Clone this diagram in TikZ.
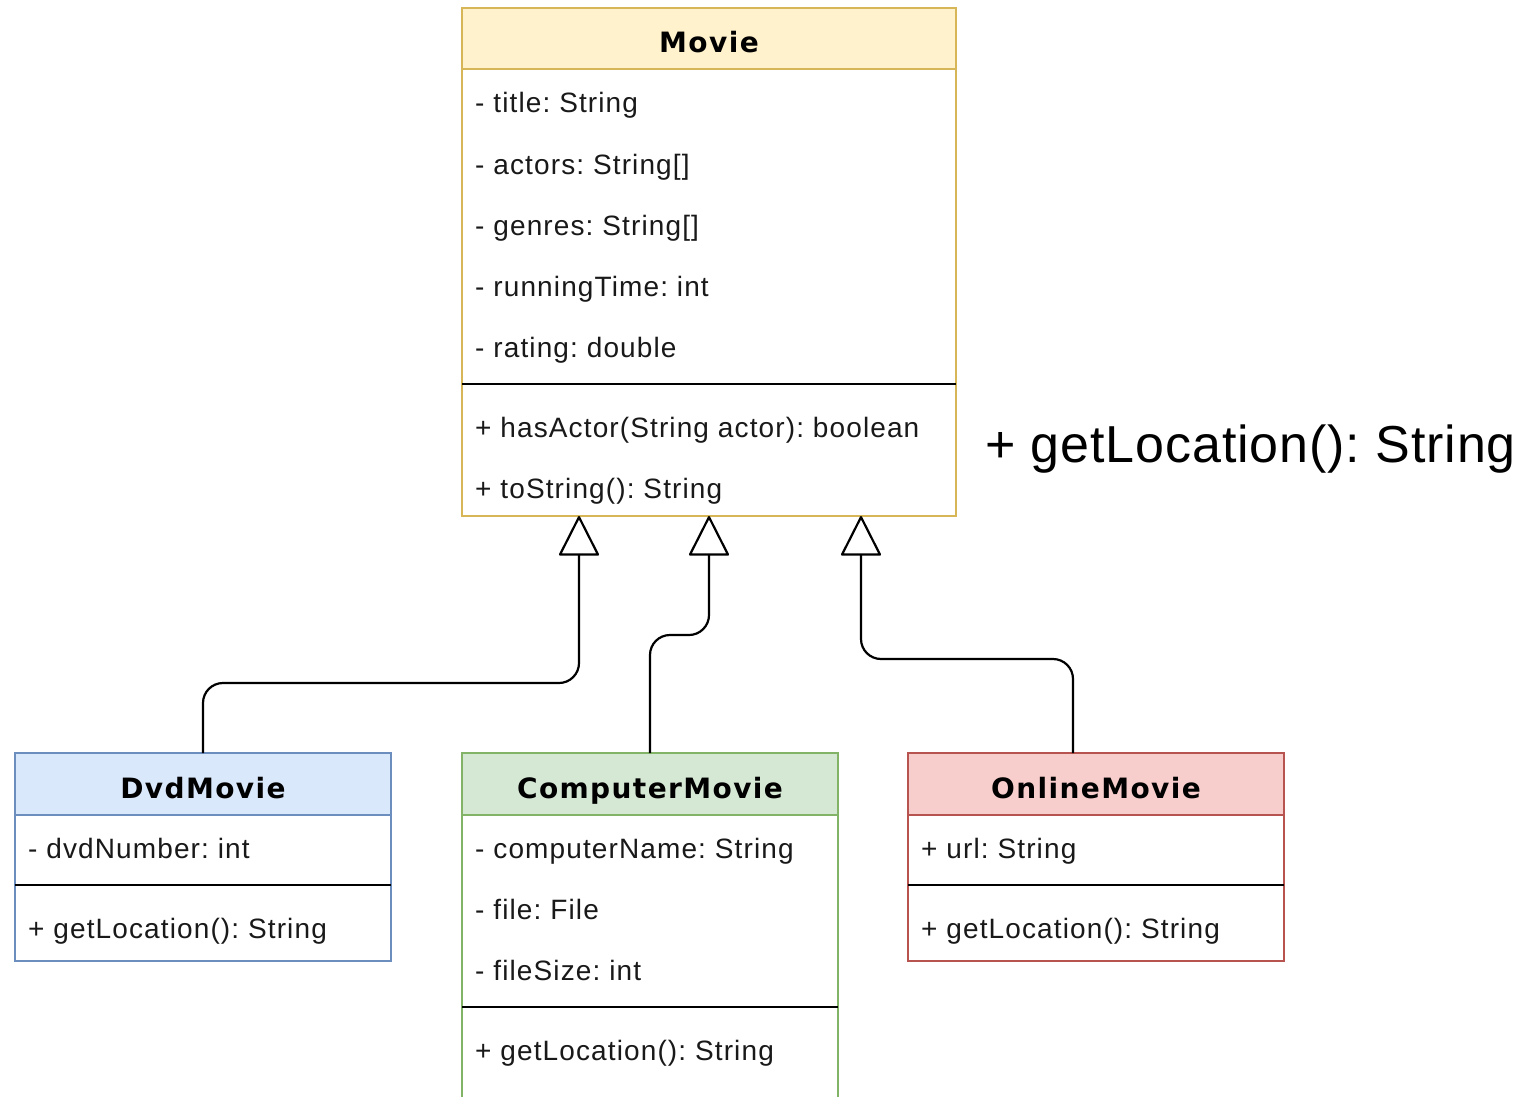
\documentclass[tikz,border=0pt]{standalone}
\usepackage{fontspec}
\setmainfont{Liberation Sans}
\newfontfamily\memberfont[LetterSpace=4]{Liberation Sans}
\newfontfamily\loosefont[LetterSpace=1.7]{Liberation Sans}
\newfontfamily\titlefont[LetterSpace=5]{DejaVu Sans}
\usetikzlibrary{arrows.meta}

% class colours (fill / stroke)
\definecolor{yelFill}{HTML}{FFF2CC}\definecolor{yelLine}{HTML}{D6B656}
\definecolor{bluFill}{HTML}{DAE8FC}\definecolor{bluLine}{HTML}{6C8EBF}
\definecolor{grnFill}{HTML}{D5E8D4}\definecolor{grnLine}{HTML}{82B366}
\definecolor{redFill}{HTML}{F8CECC}\definecolor{redLine}{HTML}{B85450}

\tikzset{
  boxpart/.style={draw, line width=2.2pt, inner sep=0pt, outer sep=0pt, rectangle},
  classtitle/.style={anchor=base, inner sep=0pt, font=\titlefont\bfseries\fontsize{28}{32}\selectfont},
  member/.style={anchor=base west, inner sep=0pt, font=\memberfont\fontsize{28}{32}\selectfont, text=black!90},
  divider/.style={draw, line width=2.2pt, black},
  inherit/.style={draw, line width=2.2pt, rounded corners=20pt,
    -{Triangle[open, length=41pt, width=41pt, line width=2.2pt, round]}},
}

\begin{document}
\frenchspacing
\begin{tikzpicture}[x=1pt, y=-1pt]
  \clip (0,0) rectangle (1523,1097);
  \fill[white] (0,0) rectangle (1523,1097);

  % ---- Movie ----
  \node[boxpart, draw=yelLine, fill=white, minimum width=494pt, minimum height=447pt] (movieB) at (709,292.5) {};
  \node[boxpart, draw=yelLine, fill=yelFill, minimum width=494pt, minimum height=61pt] (movieH) at (709,38.5) {};
  \node[classtitle] (movieT) at (709,53) {Movie};
  \node[member] (m1) at (475,113) {- title: String};
  \node[member] (m2) at (475,174) {- actors: String[]};
  \node[member] (m3) at (475,235) {- genres: String[]};
  \node[member] (m4) at (475,296) {- runningTime: int};
  \node[member] (m5) at (475,357) {- rating: double};
  \draw[divider] (movieB.west |- 0,384) -- (movieB.east |- 0,384);
  \node[member] (m6) at (475,437) {+ hasActor(String actor): boolean};
  \node[member] (m7) at (475,498) {+ toString(): String};

  % ---- DvdMovie ----
  \node[boxpart, draw=bluLine, fill=white, minimum width=376pt, minimum height=146pt] (dvdB) at (203,888) {};
  \node[boxpart, draw=bluLine, fill=bluFill, minimum width=376pt, minimum height=62pt] (dvdH) at (203,784) {};
  \node[classtitle] (dvdT) at (203,798) {DvdMovie};
  \node[member] (d1) at (28,858) {- dvdNumber: int};
  \draw[divider] (dvdB.west |- 0,885) -- (dvdB.east |- 0,885);
  \node[member] (d2) at (28,938) {+ getLocation(): String};

  % ---- ComputerMovie ----
  \node[boxpart, draw=grnLine, fill=white, minimum width=376pt, minimum height=330pt] (cmB) at (650,980) {};
  \node[boxpart, draw=grnLine, fill=grnFill, minimum width=376pt, minimum height=62pt] (cmH) at (650,784) {};
  \node[classtitle] (cmT) at (650,798) {ComputerMovie};
  \node[member] (c1) at (475,858) {- computerName: String};
  \node[member] (c2) at (475,919) {- file: File};
  \node[member] (c3) at (475,980) {- fileSize: int};
  \draw[divider] (cmB.west |- 0,1007) -- (cmB.east |- 0,1007);
  \node[member] (c4) at (475,1060) {+ getLocation(): String};

  % ---- OnlineMovie ----
  \node[boxpart, draw=redLine, fill=white, minimum width=376pt, minimum height=146pt] (onB) at (1096,888) {};
  \node[boxpart, draw=redLine, fill=redFill, minimum width=376pt, minimum height=62pt] (onH) at (1096,784) {};
  \node[classtitle] (onT) at (1096,798) {OnlineMovie};
  \node[member] (o1) at (921,858) {+ url: String};
  \draw[divider] (onB.west |- 0,885) -- (onB.east |- 0,885);
  \node[member] (o2) at (921,938) {+ getLocation(): String};

  % ---- generalisation arrows ----
  \draw[inherit] (dvdH.north) -- ++(0,-70) -| ([xshift=117pt]movieB.south west);
  \draw[inherit] (cmH.north) -- ++(0,-118) -| (movieB.south);
  \draw[inherit] ([xshift=-23pt]onH.north) -- ++(0,-94) -| ([xshift=399pt]movieB.south west);

  % ---- loose operation label ----
  \node[anchor=base west, inner sep=0pt, font=\loosefont\fontsize{52}{60}\selectfont] (loose) at (985,462) {+ getLocation(): String};
\end{tikzpicture}
\end{document}
